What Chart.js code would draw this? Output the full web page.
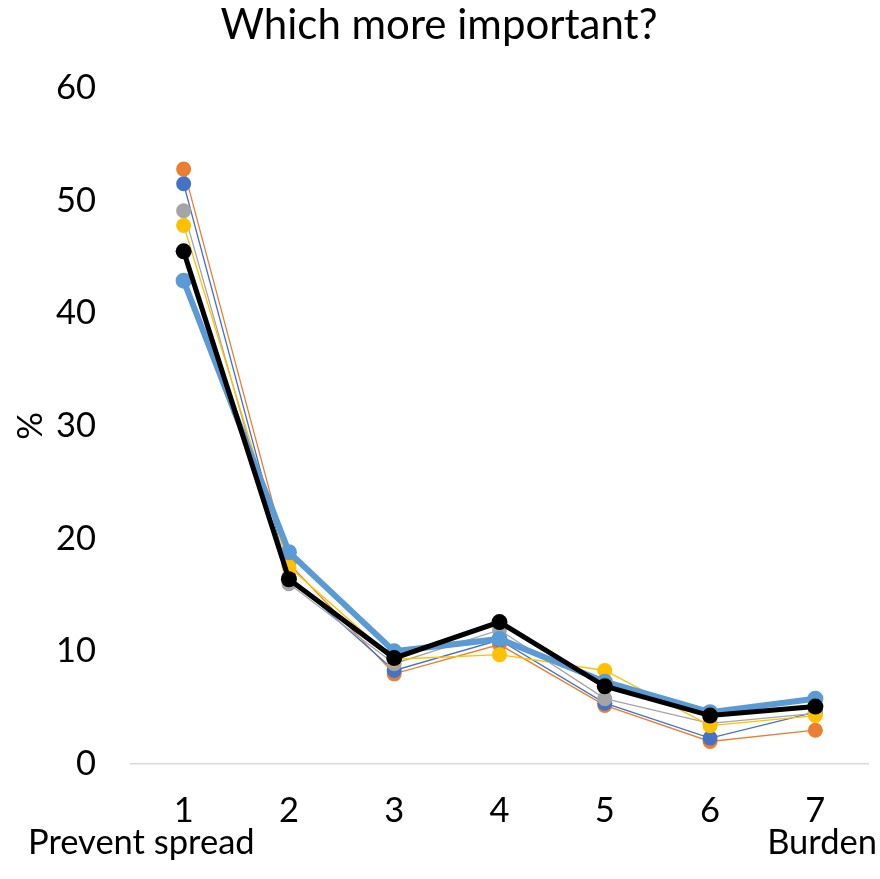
<!DOCTYPE html>
<html>
<head>
<meta charset="utf-8">
<script src="https://cdn.jsdelivr.net/npm/chart.js@4.4.1/dist/chart.umd.min.js"></script>
<style>
  html, body { margin: 0; padding: 0; background: #fff; }
  #wrap { width: 880px; height: 879px; position: relative; }
</style>
</head>
<body>
<div id="wrap"><canvas id="c" width="880" height="879"></canvas></div>
<script>
const categories = ['1', '2', '3', '4', '5', '6', '7'];
const yTicks = [0, 10, 20, 30, 40, 50, 60];
const leftEndLabel = 'Prevent spread';
const rightEndLabel = 'Burden';
const titleText = 'Which more important?';
const yAxisTitle = '%';

const seriesOrange    = [52.8, 17.8, 8.0, 10.6, 5.2, 2.0, 3.0];
const seriesBlue      = [51.5, 16.6, 8.3, 11.0, 5.4, 2.3, 4.6];
const seriesGray      = [49.1, 16.0, 8.9, 11.9, 5.8, 3.6, 4.5];
const seriesYellow    = [47.8, 17.5, 9.3, 9.7, 8.3, 3.4, 4.3];
const seriesLightBlue = [42.9, 18.8, 10.0, 11.1, 7.3, 4.6, 5.8];
const seriesBlack     = [45.5, 16.4, 9.4, 12.6, 6.9, 4.3, 5.1];

const FONT = 'Lato, "Open Sans", sans-serif';
const TICK_SIZE = 34.5;

function ds(label, data, color, width, radius, order) {
  return {
    label, data,
    borderColor: color, backgroundColor: color,
    pointBackgroundColor: color, pointBorderColor: color,
    borderWidth: width, pointRadius: radius, pointBorderWidth: 0,
    pointHoverRadius: radius, tension: 0, order
  };
}

const endLabels = {
  id: 'endLabels',
  afterDraw(chart) {
    const ctx = chart.ctx;
    ctx.save();
    ctx.fillStyle = '#000';
    ctx.font = TICK_SIZE + 'px ' + FONT;
    ctx.textBaseline = 'alphabetic';
    ctx.textAlign = 'left';
    ctx.fillText(leftEndLabel, 28, 854);
    ctx.textAlign = 'right';
    ctx.fillText(rightEndLabel, 877, 854);
    ctx.restore();
  }
};

new Chart(document.getElementById('c'), {
  type: 'line',
  data: {
    labels: categories,
    datasets: [
      ds('Black', seriesBlack, '#000000', 5, 8, 0),
      ds('Light blue', seriesLightBlue, '#5B9BD5', 6, 8, 1),
      ds('Yellow', seriesYellow, '#FFC000', 1.3, 7.5, 2),
      ds('Gray', seriesGray, '#A5A5A5', 1.3, 7.5, 3),
      ds('Blue', seriesBlue, '#4472C4', 1.3, 7.5, 4),
      ds('Orange', seriesOrange, '#ED7D31', 1.3, 7.5, 5)
    ]
  },
  options: {
    responsive: false,
    animation: false,
    events: [],
    layout: { padding: { left: 10, right: 12, top: 0, bottom: 0 } },
    plugins: {
      legend: { display: false },
      tooltip: { enabled: false },
      title: {
        display: true,
        text: titleText,
        color: '#000',
        font: { family: FONT, size: 42, weight: 'normal' },
        padding: { top: 0, bottom: 37.6 }
      }
    },
    scales: {
      x: {
        offset: true,
        grid: { display: false, drawTicks: false },
        border: { display: true, color: '#D9D9D9', width: 1.5 },
        ticks: { color: '#000', font: { family: FONT, size: TICK_SIZE }, padding: 26, maxRotation: 0 },
        afterFit(scale) { scale.height = 115; }
      },
      y: {
        min: 0, max: 60,
        afterBuildTicks(scale) { scale.ticks = yTicks.map(v => ({ value: v })); },
        grid: { display: false, drawTicks: false },
        border: { display: false },
        ticks: { color: '#000', font: { family: FONT, size: TICK_SIZE }, padding: 35 },
        title: { display: true, text: yAxisTitle, color: '#000', font: { family: FONT, size: TICK_SIZE }, padding: { top: 0, bottom: 0 } },
        afterFit(scale) { scale.width = 121; }
      }
    }
  },
  plugins: [endLabels]
});
</script>
</body>
</html>
